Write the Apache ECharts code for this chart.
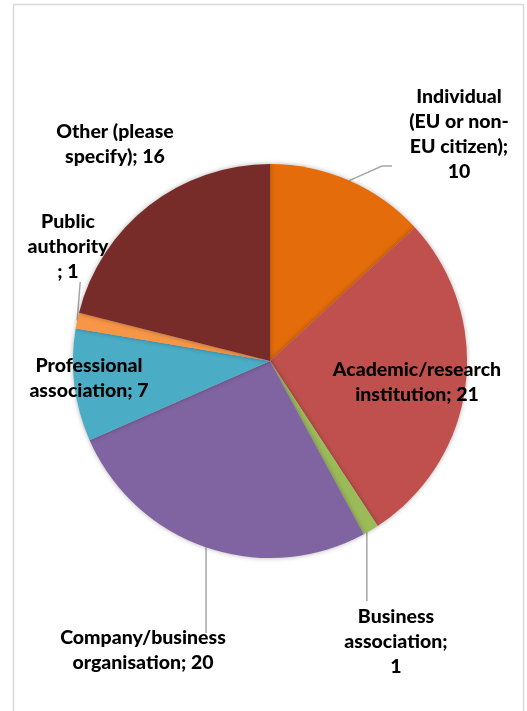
<!DOCTYPE html>
<html>
<head>
<meta charset="utf-8">
<script src="https://cdn.jsdelivr.net/npm/echarts@6/dist/echarts.min.js"></script>
<style>
  html, body { margin: 0; padding: 0; background: #fff; }
  #pie { width: 527px; height: 711px; }
</style>
</head>
<body>
<div id="pie"></div>
<script>
// slices, clockwise from 12 o'clock
const categories = [
  'Individual (EU or non-EU citizen)',
  'Academic/research institution',
  'Business association',
  'Company/business organisation',
  'Professional association',
  'Public authority',
  'Other (please specify)'
]
const values = [10, 21, 1, 20, 7, 1, 16]
// label text as it wraps in the picture
const labelText = [
  'Individual\n(EU or non-\nEU citizen);\n10',
  'Academic/research\ninstitution; 21',
  'Business\nassociation;\n1',
  'Company/business\norganisation; 20',
  'Professional\nassociation; 7',
  'Public\nauthority\n; 1',
  'Other (please\nspecify); 16'
]
const colours = ['#E46C0A', '#C0504D', '#9BBB59', '#8064A2', '#4BACC6', '#F79646', '#772C2A']

// where each label block sits, and how its leader line bends
const labelPos = [
  {x: 459, y: 134, line: 'elbow'},
  {x: 417, y: 382, line: null},
  {x: 396, y: 642, line: 'down', end: 601, dx: -4},
  {x: 143, y: 650, line: 'down', end: 633, dx: 0},
  {x: 89, y: 378, line: null},
  {x: 68, y: 247, line: 'up', end: 282},
  {x: 115, y: 144, line: null}
]

const myChart = echarts.init(document.getElementById('pie'))

const option = {
  animation: false,
  graphic: [{
    type: 'rect',
    shape: {x: 13.5, y: 4.5, width: 510, height: 730},
    style: {fill: 'none', stroke: '#D9D9D9', lineWidth: 1.5},
    silent: true
  }],
  series: [{
    type: 'pie',
    center: [270, 361],
    radius: 197,
    startAngle: 90,
    clockwise: true,
    avoidLabelOverlap: false,
    itemStyle: {
      shadowBlur: 5,
      shadowColor: 'rgba(0,0,0,0.3)'
    },
    label: {
      show: true,
      position: 'outside',
      formatter: (p) => labelText[p.dataIndex],
      fontFamily: 'Lato',
      fontWeight: 900,
      fontSize: 19.5,
      lineHeight: 25,
      color: '#000',
      align: 'center'
    },
    labelLine: {
      show: true,
      length: 10,
      length2: 10,
      lineStyle: {color: '#A6A6A6', width: 1.5}
    },
    labelLayout: function (params) {
      const pos = labelPos[params.dataIndex]
      const out = {x: pos.x, y: pos.y, align: 'center', verticalAlign: 'middle'}
      const pts = params.labelLinePoints
      if (pts && pos.line) {
        const s = pts[0]
        if (pos.line === 'elbow') {
          out.labelLinePoints = [s, [382, 166], [392, 166]]
        } else if (pos.line === 'down') {
          const lx = s[0] + pos.dx
          out.labelLinePoints = [[lx, s[1]], [lx, pos.end], [lx, pos.end]]
        } else {
          out.labelLinePoints = [s, [s[0] + 3, pos.end], [s[0] + 3, pos.end]]
        }
      }
      return out
    },
    data: values.map((v, i) => ({
      name: categories[i],
      value: v,
      itemStyle: {color: colours[i]},
      labelLine: {show: labelPos[i].line !== null}
    }))
  }]
}

myChart.setOption(option)
</script>
</body>
</html>
